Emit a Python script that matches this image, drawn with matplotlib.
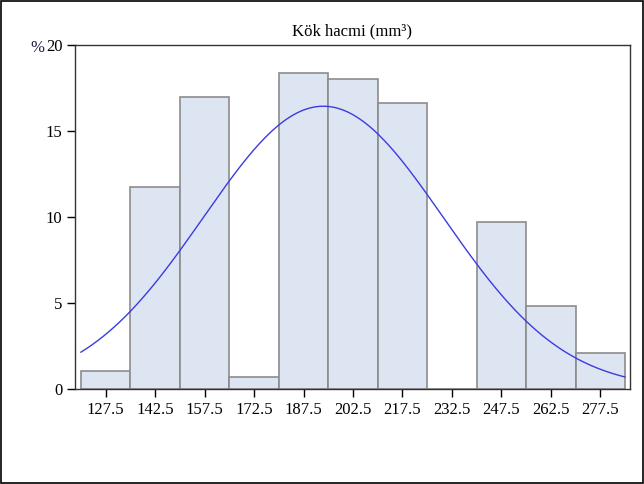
import numpy as np
import matplotlib.pyplot as plt
from matplotlib.patches import Rectangle

# histogram (percent per bin), bin midpoints
mids = [127.5, 142.5, 157.5, 172.5, 187.5, 202.5, 217.5, 232.5, 247.5, 262.5, 277.5]
pct = [1.05, 11.75, 16.95, 0.7, 18.35, 18.0, 16.6, 0.0, 9.7, 4.85, 2.1]
bin_w = 15
# fitted normal curve parameters
mu, sigma = 193.5, 36.4
yticks = [0, 5, 10, 15, 20]

plt.rcParams['font.family'] = ['Liberation Serif', 'DejaVu Serif']

fig = plt.figure(figsize=(6.44, 4.84), dpi=100)
ax = fig.add_axes([75/644, 1-389/484, 555/644, 344/484])

ax.bar(mids, pct, width=bin_w, color='#dce5f1', edgecolor='#8c8c8c', linewidth=1.2, zorder=2)

xs = np.linspace(mids[0]-bin_w/2, mids[-1]+bin_w/2, 300)
curve = 100*bin_w/(sigma*np.sqrt(2*np.pi))*np.exp(-0.5*((xs-mu)/sigma)**2)
ax.plot(xs, curve, color='#3b3be0', lw=1, zorder=3)

ax.set_xlim(118.2, 286.5)
ax.set_ylim(0, 20)
ax.set_xticks(mids)
ax.set_xticklabels([f'{m:.1f}' for m in mids])
ax.set_yticks(yticks)
ax.tick_params(direction='out', length=6, width=1, labelsize=12, colors='black', pad=3)
for s in ax.spines.values():
    s.set_color('#333333')
    s.set_linewidth(1)

ax.set_title('Kök hacmi (mm³)', fontsize=12, pad=7)
ax.text(-0.08, 0.99, '%', transform=ax.transAxes, fontsize=12, ha='left', va='center', color='#1a1a40')

fig.patches.append(Rectangle((0.002, 0.002), 0.996, 0.996, transform=fig.transFigure,
                             fill=False, edgecolor='black', linewidth=1.2))

plt.savefig('out.png', dpi=100)
